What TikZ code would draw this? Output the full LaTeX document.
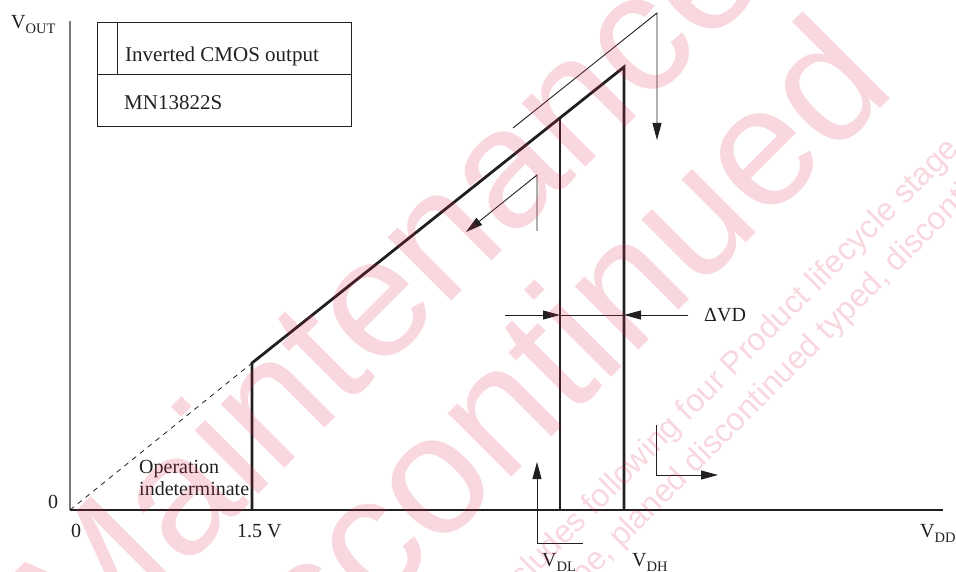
\documentclass[tikz,border=0pt]{standalone}
\usepackage{fontspec}
\setmainfont{Liberation Serif}
\newfontfamily\wmfont{Liberation Sans}
\usetikzlibrary{arrows.meta}
\definecolor{ink}{HTML}{231F20}
\definecolor{axisgray}{HTML}{7A7A7A}
\definecolor{wmred}{RGB}{217,31,72}
\newcommand\sbs[1]{\raisebox{-5pt}{\fontsize{14.5}{15}\selectfont #1}}
\begin{document}
\begin{tikzpicture}[x=1pt,y=-1pt,
  lbl/.style={inner sep=0pt, anchor=base west, font=\fontsize{20}{24}\selectfont, text=ink},
  leg/.style={inner sep=0pt, anchor=base west, font=\fontsize{21}{25}\selectfont, text=ink},
  curveline/.style={draw=ink, line width=2.8pt, line join=miter},
  thinline/.style={draw=ink, line width=0.9pt},
  arr/.style={thinline, -{Triangle[length=17pt,width=9pt]}},
  wm/.style={inner sep=0pt, anchor=base west, rotate=45, text=wmred, text opacity=0.18},
]
\useasboundingbox (0,0) rectangle (956,572);

% axes
\coordinate (O) at (70,510);
\coordinate (ytop) at (70,21);
\coordinate (xend) at (943,510);
\draw[draw=axisgray, line width=1.5pt] (O) -- (ytop);
\draw[draw=ink, line width=1.1pt] (O) -- (xend);

% axis labels
\node[lbl] (vout) at (11,29) {V\sbs{OUT}};
\node[lbl] (zeroy) at (48,508) {0};
\node[lbl] (zerox) at (71,537) {0};
\node[lbl] (v15) at (237,537) {1.5 V};
\node[lbl] (vdd) at (920,537) {V\sbs{DD}};
\node[lbl] (vdl) at (542,566) {V\sbs{DL}};
\node[lbl] (vdh) at (632,566) {V\sbs{DH}};
\node[lbl] (dvd) at (704,321) {ΔVD};
\node[lbl] (op1) at (139,473) {Operation};
\node[lbl] (op2) at (139,495) {indeterminate};

% legend box
\coordinate (lbA) at (97,23);
\coordinate (lbB) at (351,127);
\draw[draw=ink, line width=1pt] (lbA) rectangle (lbB);
\coordinate (ldL) at (97,75);
\coordinate (ldR) at (351,75);
\draw[draw=ink, line width=1pt] (ldL) -- (ldR);
\coordinate (lvT) at (117,23);
\coordinate (lvB) at (117,75);
\draw[draw=ink, line width=1pt] (lvT) -- (lvB);
\node[leg] (legA) at (125,62) {Inverted CMOS output};
\node[leg] (legB) at (124,110) {MN13822S};

% characteristic
\coordinate (p15b) at (252,510);
\coordinate (p15t) at (252,363);
\coordinate (peak) at (624,67);
\coordinate (vdhb) at (624,510);
\coordinate (vdlb) at (560,510);
\coordinate (vdlt) at (560,117.9);
\draw[thinline, line width=0.8pt, dash pattern=on 5pt off 5pt] (O) -- (p15t);
\draw[curveline] (p15b) -- (p15t) -- (peak) -- (vdhb);
\draw[curveline] (vdlb) -- (vdlt);

% rising / falling arrows
\coordinate (a1s) at (513,128);
\coordinate (a1k) at (657,13);
\coordinate (a1e) at (657,140);
\draw[arr] (a1s) -- (a1k) -- (a1e);
\coordinate (a2s) at (537,231);
\coordinate (a2k) at (537,175);
\coordinate (a2e) at (466,232);
\draw[arr] (a2s) -- (a2k) -- (a2e);
\coordinate (a3s) at (656,425);
\coordinate (a3k) at (656,475);
\coordinate (a3e) at (718,475);
\draw[arr] (a3s) -- (a3k) -- (a3e);
\coordinate (a4s) at (583,543);
\coordinate (a4k) at (537,543);
\coordinate (a4e) at (537,462);
\draw[arr] (a4s) -- (a4k) -- (a4e);

% delta VD dimension
\coordinate (dL) at (505,315);
\coordinate (dLt) at (560,315);
\coordinate (dR) at (688,315);
\coordinate (dRt) at (624,315);
\draw[arr] (dL) -- (dLt);
\draw[arr] (dR) -- (dRt);
\draw[thinline] (dLt) -- (dRt);

% watermark
\begin{scope}
\clip (0,0) rectangle (956,572);
\node[wm, font=\wmfont\fontsize{170}{170}\selectfont] (wm1) at (83,670) {Maintenance/};
\node[wm, font=\wmfont\fontsize{170}{170}\selectfont] (wm2) at (203,786) {Discontinued};
\node[wm, font=\wmfont\fontsize{32}{32}\selectfont] (wm3) at (505,606) {includes following four Product lifecycle stage.};
\node[wm, font=\wmfont\fontsize{32}{32}\selectfont] (wm4) at (430,740) {maintenance type, planed discontinued typed, discontinued type.};
\end{scope}
\end{tikzpicture}
\end{document}
